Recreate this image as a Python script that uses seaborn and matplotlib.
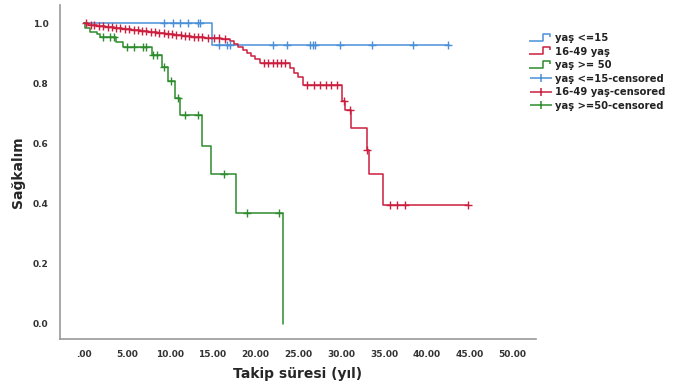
import seaborn as sns
import numpy as np
import pandas as pd
import matplotlib
matplotlib.use("Agg")
import matplotlib.pyplot as plt
from matplotlib.lines import Line2D
from matplotlib.path import Path

# Kaplan-Meier adım noktaları (okunan değerler)
mavi_t = [0.0, 14.9, 42.6]
mavi_s = [1.0, 0.927, 0.927]
mavi_cens_t = [9.3, 10.4, 11.2, 12.1, 13.3, 13.5, 15.7, 16.7, 17.0, 22.0, 23.7, 26.4, 26.7, 27.0, 29.9, 33.6, 38.4, 42.5]

kirmizi_t = [0.0, 0.5, 1.5, 2.5, 3.5, 4.5, 5.5, 6.5, 7.5, 8.5, 9.5, 10.5, 11.5, 12.5, 14.0, 16.0,
             17.0, 17.5, 18.0, 18.5, 19.0, 19.5, 20.0, 20.5, 24.0, 24.5, 25.0, 25.5,
             30.1, 30.4, 31.2, 33.0, 33.3, 34.9, 44.8]
kirmizi_s = [1.0, 0.995, 0.99, 0.987, 0.983, 0.98, 0.977, 0.973, 0.97, 0.967, 0.963, 0.96, 0.958, 0.955, 0.952, 0.947,
             0.94, 0.93, 0.92, 0.91, 0.90, 0.89, 0.88, 0.867, 0.85, 0.835, 0.82, 0.793,
             0.74, 0.71, 0.65, 0.577, 0.50, 0.397, 0.397]
kirmizi_cens_t = [0.3, 0.8, 1.2, 1.8, 2.2, 2.8, 3.3, 3.8, 4.2, 4.8, 5.3, 5.8, 6.3, 6.8, 7.3, 7.8, 8.3,
                  8.8, 9.3, 9.8, 10.3, 10.8, 11.3, 11.8, 12.3, 12.8, 13.3, 13.8, 14.5, 15.2, 15.8, 16.5,
                  21.0, 21.5, 22.0, 22.5, 23.0, 23.5, 26.0, 26.8, 27.5, 28.2, 28.8, 29.5,
                  30.3, 31.0, 33.0, 35.7, 36.5, 37.5, 44.8]

yesil_t = [0.0, 0.1, 0.7, 1.5, 1.9, 3.8, 4.6, 7.9, 9.1, 9.8, 10.6, 11.2, 13.8, 14.8, 17.7, 23.2, 23.2]
yesil_s = [1.0, 0.983, 0.97, 0.965, 0.953, 0.937, 0.92, 0.893, 0.853, 0.807, 0.75, 0.693, 0.593, 0.497, 0.37, 0.0, 0.0]
yesil_cens_t = [2.2, 3.0, 3.5, 5.0, 5.9, 6.9, 7.3, 8.1, 8.5, 9.4, 10.2, 11.0, 11.8, 13.3, 16.3, 19.0, 22.8]

etiketler = ["yaş <=15", "16-49 yaş", "yaş >= 50",
             "yaş <=15-censored", "16-49 yaş-censored", "yaş >=50-censored"]
renkler = ["#4a8fd8", "#cc1f3f", "#2e8b2e"]
xticks = [0, 5, 10, 15, 20, 25, 30, 35, 40, 45, 50]
yticks = [0.0, 0.2, 0.4, 0.6, 0.8, 1.0]


def adim_degeri(t_list, s_list, t):
    # t anındaki sağkalım (steps-post)
    idx = np.searchsorted(np.array(t_list), t, side="right") - 1
    return s_list[max(idx, 0)]


sns.set_style("white")
plt.rcParams["font.family"] = ["DejaVu Sans"]

fig = plt.figure(figsize=(6.8, 3.91), dpi=100)
ax = fig.add_axes([0.088, 0.133, 0.70, 0.854])

gruplar = [(mavi_t, mavi_s, mavi_cens_t), (kirmizi_t, kirmizi_s, kirmizi_cens_t), (yesil_t, yesil_s, yesil_cens_t)]
for (t, s, ct), renk in zip(gruplar, renkler):
    df = pd.DataFrame({"t": t, "s": s})
    ax.plot(df["t"], df["s"], drawstyle="steps-post", color=renk, lw=1.1)
    cs = [adim_degeri(t, s, c) for c in ct]
    dc = pd.DataFrame({"t": ct, "s": cs})
    sns.scatterplot(data=dc, x="t", y="s", marker="+", s=28, color=renk, linewidth=1.0, ax=ax, zorder=3)

ax.set_xlim(-2.8, 52.7)
ax.set_ylim(-0.05, 1.06)
ax.set_xticks(xticks)
ax.set_xticklabels([".00"] + [f"{v:.2f}" for v in xticks[1:]], fontsize=6.5, fontweight="bold", color="#333333")
ax.set_yticks(yticks)
ax.set_yticklabels([f"{v:.1f}" for v in yticks], fontsize=6.5, fontweight="bold", color="#333333")
ax.tick_params(length=0, pad=8)
ax.set_xlabel("Takip süresi (yıl)", fontsize=10, fontweight="bold", labelpad=6)
ax.set_ylabel("Sağkalım", fontsize=10, fontweight="bold", labelpad=6)
sns.despine(ax=ax)
for sp in ["left", "bottom"]:
    ax.spines[sp].set_color("#999999")
    ax.spines[sp].set_linewidth(1.2)

# Lejant: adım şekilli ve sansür işaretleri
adim = Path([(-1.0, -0.25), (0.2, -0.25), (0.2, 0.3), (0.75, 0.3), (0.75, 0.05)])
sansur = Path([(-1.0, 0.0), (1.0, 0.0), (0.0, 0.35), (0.0, -0.35)],
              [Path.MOVETO, Path.LINETO, Path.MOVETO, Path.LINETO])
tutamaclar = [Line2D([], [], marker=adim, markersize=17, color=r, markerfacecolor="none",
                     linestyle="none", markeredgewidth=1.1) for r in renkler]
tutamaclar += [Line2D([], [], marker=sansur, markersize=16, color=r, markerfacecolor="none",
                      linestyle="none", markeredgewidth=1.1) for r in renkler]
leg = fig.legend(tutamaclar, etiketler, loc="upper left", bbox_to_anchor=(0.778, 0.925),
                 frameon=False, fontsize=7.2, handlelength=1.5, handletextpad=0.7,
                 labelspacing=0.35, borderaxespad=0)
for txt in leg.get_texts():
    txt.set_fontweight("bold")
    txt.set_color("#222222")

fig.savefig("out.png", dpi=100)
